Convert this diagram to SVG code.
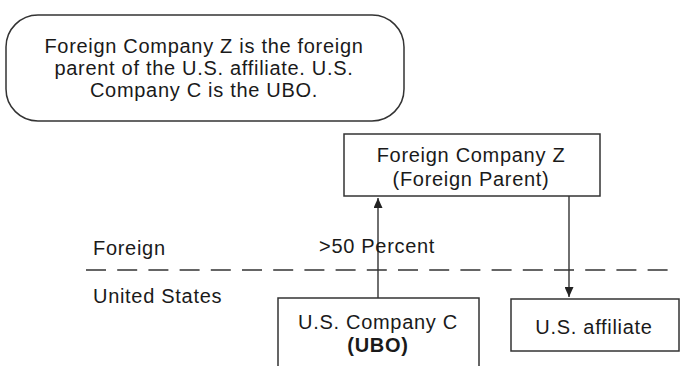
<svg xmlns="http://www.w3.org/2000/svg" width="681" height="366" viewBox="0 0 681 366">
<style>
text{font-family:"Liberation Sans",Arial,sans-serif;font-size:20px;fill:#1a1a1a;letter-spacing:0.7px}
.c{text-anchor:middle}
.box{fill:#fff;stroke:#333;stroke-width:1.5}
.ln{stroke:#333;stroke-width:1.4;fill:none}
.b{font-weight:bold}
</style>
<defs>
<marker id="ah" viewBox="0 0 10 9" refX="10" refY="4.5" markerWidth="10" markerHeight="9" markerUnits="userSpaceOnUse" orient="auto">
<path d="M0,0 L10,4.5 L0,9 Z" fill="#222"/>
</marker>
</defs>
<rect width="681" height="366" fill="#fff"/>
<g id="note">
<rect class="box" x="6" y="15" width="398" height="106" rx="32" ry="32"/>
<text class="c" x="204" y="53">Foreign Company Z is the foreign</text>
<text class="c" x="204" y="75">parent of the U.S. affiliate. U.S.</text>
<text class="c" x="204" y="97">Company C is the UBO.</text>
</g>
<g id="regions">
<line class="ln" x1="86" y1="270" x2="668" y2="270" stroke-dasharray="20 11.2"/>
<text x="93" y="255">Foreign</text>
<text x="93" y="303">United States</text>
</g>
<g id="companyZ">
<rect class="box" x="344" y="134" width="256" height="62"/>
<text class="c" x="471" y="162">Foreign Company Z</text>
<text class="c" x="471" y="186">(Foreign Parent)</text>
</g>
<g id="companyC">
<rect class="box" x="278" y="298" width="201" height="90"/>
<text class="c" x="378" y="329">U.S. Company C</text>
<text class="c b" x="378" y="352">(UBO)</text>
</g>
<g id="affiliate">
<rect class="box" x="511" y="299" width="168" height="52"/>
<text class="c" x="594" y="334">U.S. affiliate</text>
</g>
<g id="connectors">
<line class="ln" x1="378" y1="298" x2="378" y2="198" marker-end="url(#ah)"/>
<text x="319" y="253">&gt;50 Percent</text>
<line class="ln" x1="569" y1="196" x2="569" y2="297" marker-end="url(#ah)"/>
</g>
</svg>
